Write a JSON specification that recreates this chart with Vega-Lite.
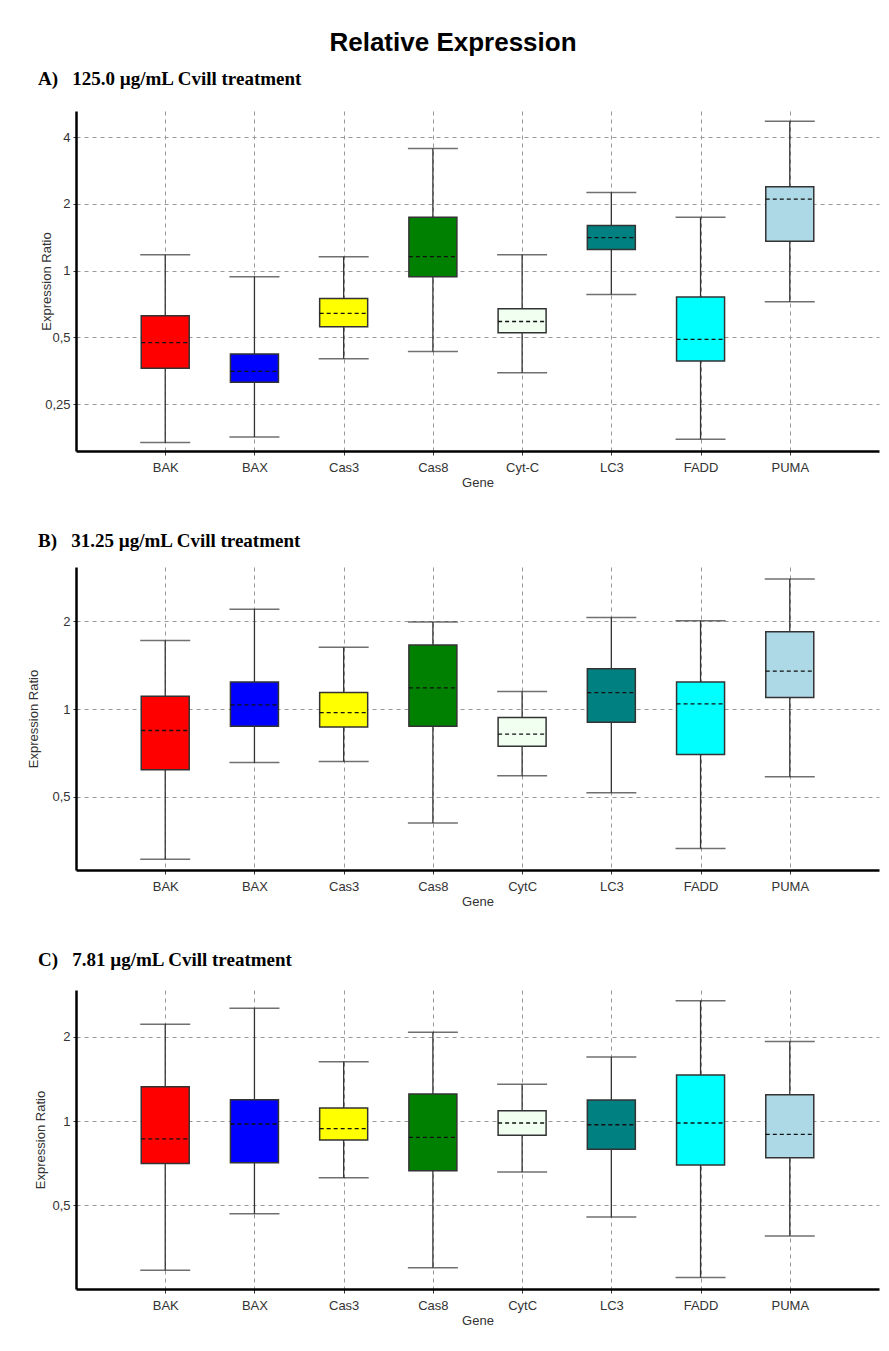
{
  "$schema": "https://vega.github.io/schema/vega-lite/v6.json",
  "background": "white",
  "padding": {"left": 27, "top": 30, "right": 4, "bottom": 4},
  "title": {"text": "Relative Expression", "fontSize": 26, "font": "Liberation Sans", "fontWeight": "bold", "anchor": "middle", "color": "#000", "offset": 14},
  "spacing": 43,
  "datasets": {
    "boxes": [
      {"panel": "A", "gene": "BAK", "min": 0.168, "q1": 0.363, "med": 0.474, "q3": 0.627, "max": 1.18},
      {"panel": "A", "gene": "BAX", "min": 0.178, "q1": 0.314, "med": 0.352, "q3": 0.421, "max": 0.94},
      {"panel": "A", "gene": "Cas3", "min": 0.401, "q1": 0.559, "med": 0.642, "q3": 0.75, "max": 1.156},
      {"panel": "A", "gene": "Cas8", "min": 0.432, "q1": 0.94, "med": 1.156, "q3": 1.74, "max": 3.55},
      {"panel": "A", "gene": "Cyt-C", "min": 0.347, "q1": 0.525, "med": 0.59, "q3": 0.674, "max": 1.18},
      {"panel": "A", "gene": "LC3", "min": 0.78, "q1": 1.244, "med": 1.409, "q3": 1.596, "max": 2.25},
      {"panel": "A", "gene": "FADD", "min": 0.174, "q1": 0.392, "med": 0.49, "q3": 0.761, "max": 1.74},
      {"panel": "A", "gene": "PUMA", "min": 0.725, "q1": 1.356, "med": 2.1, "q3": 2.39, "max": 4.71},
      {"panel": "B", "gene": "BAK", "min": 0.306, "q1": 0.62, "med": 0.845, "q3": 1.108, "max": 1.72},
      {"panel": "B", "gene": "BAX", "min": 0.656, "q1": 0.874, "med": 1.035, "q3": 1.24, "max": 2.2},
      {"panel": "B", "gene": "Cas3", "min": 0.661, "q1": 0.868, "med": 0.973, "q3": 1.14, "max": 1.63},
      {"panel": "B", "gene": "Cas8", "min": 0.407, "q1": 0.874, "med": 1.183, "q3": 1.66, "max": 1.99},
      {"panel": "B", "gene": "CytC", "min": 0.591, "q1": 0.746, "med": 0.821, "q3": 0.936, "max": 1.149},
      {"panel": "B", "gene": "LC3", "min": 0.517, "q1": 0.902, "med": 1.14, "q3": 1.375, "max": 2.06},
      {"panel": "B", "gene": "FADD", "min": 0.333, "q1": 0.699, "med": 1.043, "q3": 1.24, "max": 2.01},
      {"panel": "B", "gene": "PUMA", "min": 0.587, "q1": 1.096, "med": 1.35, "q3": 1.84, "max": 2.79},
      {"panel": "C", "gene": "BAK", "min": 0.294, "q1": 0.705, "med": 0.863, "q3": 1.325, "max": 2.21},
      {"panel": "C", "gene": "BAX", "min": 0.467, "q1": 0.71, "med": 0.976, "q3": 1.19, "max": 2.52},
      {"panel": "C", "gene": "Cas3", "min": 0.628, "q1": 0.856, "med": 0.939, "q3": 1.112, "max": 1.627},
      {"panel": "C", "gene": "Cas8", "min": 0.3, "q1": 0.665, "med": 0.875, "q3": 1.248, "max": 2.07},
      {"panel": "C", "gene": "CytC", "min": 0.658, "q1": 0.889, "med": 0.984, "q3": 1.088, "max": 1.351},
      {"panel": "C", "gene": "LC3", "min": 0.455, "q1": 0.793, "med": 0.97, "q3": 1.188, "max": 1.69},
      {"panel": "C", "gene": "FADD", "min": 0.277, "q1": 0.697, "med": 0.984, "q3": 1.458, "max": 2.68},
      {"panel": "C", "gene": "PUMA", "min": 0.389, "q1": 0.74, "med": 0.896, "q3": 1.24, "max": 1.92}
    ]
  },
  "vconcat": [
    {
      "width": 803, "height": 340,
      "title": {"text": "A)\u00a0\u00a0\u00a0125.0 µg/mL Cvill treatment", "anchor": "start", "frame": "group", "dx": -38, "offset": 7, "baseline": "alphabetic", "font": "Liberation Serif", "fontSize": 19, "fontWeight": "bold", "color": "#000"},
      "data": {"name": "boxes"},
      "transform": [{"filter": "datum.panel == 'A'"}],
      "encoding": {"x": {"field": "gene", "type": "nominal", "sort": null, "scale": {"type": "point", "padding": 1}, "axis": {"title": "Gene"}}},
      "layer": [
        {"mark": {"type": "rule", "color": "#333", "strokeWidth": 1.3},
         "encoding": {"y": {"field": "min", "type": "quantitative", "title": "Expression Ratio", "scale": {"type": "log", "base": 2, "domain": [0.154, 5.24], "nice": false}, "axis": {"values": [0.25, 0.5, 1, 2, 4], "titleX": -23, "labelExpr": "replace(toString(datum.value), '.', ',')"}}, "y2": {"field": "max"}}},
        {"mark": {"type": "bar", "size": 48, "stroke": "#333", "strokeWidth": 1.5},
         "encoding": {"y": {"field": "q1", "type": "quantitative", "title": "Expression Ratio"}, "y2": {"field": "q3"},
           "color": {"field": "gene", "type": "nominal", "legend": null, "scale": {"domain": ["BAK", "BAX", "Cas3", "Cas8", "Cyt-C", "CytC", "LC3", "FADD", "PUMA"], "range": ["#ff0000", "#0000ff", "#ffff00", "#008000", "#f0fff0", "#f0fff0", "#008080", "#00ffff", "#add8e6"]}}}},
        {"mark": {"type": "tick", "size": 50, "thickness": 1.5, "color": "#333"}, "encoding": {"y": {"field": "min", "type": "quantitative", "title": "Expression Ratio"}}},
        {"mark": {"type": "tick", "size": 50, "thickness": 1.5, "color": "#333"}, "encoding": {"y": {"field": "max", "type": "quantitative", "title": "Expression Ratio"}}},
        {"mark": {"type": "rule", "strokeDash": [4, 3], "color": "#111", "strokeWidth": 1.3, "xOffset": -24, "x2Offset": 24}, "encoding": {"x2": {"field": "gene"}, "y": {"field": "med", "type": "quantitative", "title": "Expression Ratio"}}}
      ]
    },
    {
      "width": 803, "height": 303,
      "title": {"text": "B)\u00a0\u00a0\u00a031.25 µg/mL Cvill treatment", "anchor": "start", "frame": "group", "dx": -38, "offset": 1, "baseline": "alphabetic", "font": "Liberation Serif", "fontSize": 19, "fontWeight": "bold", "color": "#000"},
      "data": {"name": "boxes"},
      "transform": [{"filter": "datum.panel == 'B'"}],
      "encoding": {"x": {"field": "gene", "type": "nominal", "sort": null, "scale": {"type": "point", "padding": 1}, "axis": {"title": "Gene"}}},
      "layer": [
        {"mark": {"type": "rule", "color": "#333", "strokeWidth": 1.3},
         "encoding": {"y": {"field": "min", "type": "quantitative", "title": "Expression Ratio", "scale": {"type": "log", "base": 2, "domain": [0.281, 3.07], "nice": false}, "axis": {"values": [0.5, 1, 2], "titleX": -36, "labelExpr": "replace(toString(datum.value), '.', ',')"}}, "y2": {"field": "max"}}},
        {"mark": {"type": "bar", "size": 48, "stroke": "#333", "strokeWidth": 1.5},
         "encoding": {"y": {"field": "q1", "type": "quantitative", "title": "Expression Ratio"}, "y2": {"field": "q3"},
           "color": {"field": "gene", "type": "nominal", "legend": null, "scale": {"domain": ["BAK", "BAX", "Cas3", "Cas8", "Cyt-C", "CytC", "LC3", "FADD", "PUMA"], "range": ["#ff0000", "#0000ff", "#ffff00", "#008000", "#f0fff0", "#f0fff0", "#008080", "#00ffff", "#add8e6"]}}}},
        {"mark": {"type": "tick", "size": 50, "thickness": 1.5, "color": "#333"}, "encoding": {"y": {"field": "min", "type": "quantitative", "title": "Expression Ratio"}}},
        {"mark": {"type": "tick", "size": 50, "thickness": 1.5, "color": "#333"}, "encoding": {"y": {"field": "max", "type": "quantitative", "title": "Expression Ratio"}}},
        {"mark": {"type": "rule", "strokeDash": [4, 3], "color": "#111", "strokeWidth": 1.3, "xOffset": -24, "x2Offset": 24}, "encoding": {"x2": {"field": "gene"}, "y": {"field": "med", "type": "quantitative", "title": "Expression Ratio"}}}
      ]
    },
    {
      "width": 803, "height": 299,
      "title": {"text": "C)\u00a0\u00a0\u00a07.81 µg/mL Cvill treatment", "anchor": "start", "frame": "group", "dx": -38, "offset": 5, "baseline": "alphabetic", "font": "Liberation Serif", "fontSize": 19, "fontWeight": "bold", "color": "#000"},
      "data": {"name": "boxes"},
      "transform": [{"filter": "datum.panel == 'C'"}],
      "encoding": {"x": {"field": "gene", "type": "nominal", "sort": null, "scale": {"type": "point", "padding": 1}, "axis": {"title": "Gene"}}},
      "layer": [
        {"mark": {"type": "rule", "color": "#333", "strokeWidth": 1.3},
         "encoding": {"y": {"field": "min", "type": "quantitative", "title": "Expression Ratio", "scale": {"type": "log", "base": 2, "domain": [0.252, 2.93], "nice": false}, "axis": {"values": [0.5, 1, 2], "titleX": -29, "labelExpr": "replace(toString(datum.value), '.', ',')"}}, "y2": {"field": "max"}}},
        {"mark": {"type": "bar", "size": 48, "stroke": "#333", "strokeWidth": 1.5},
         "encoding": {"y": {"field": "q1", "type": "quantitative", "title": "Expression Ratio"}, "y2": {"field": "q3"},
           "color": {"field": "gene", "type": "nominal", "legend": null, "scale": {"domain": ["BAK", "BAX", "Cas3", "Cas8", "Cyt-C", "CytC", "LC3", "FADD", "PUMA"], "range": ["#ff0000", "#0000ff", "#ffff00", "#008000", "#f0fff0", "#f0fff0", "#008080", "#00ffff", "#add8e6"]}}}},
        {"mark": {"type": "tick", "size": 50, "thickness": 1.5, "color": "#333"}, "encoding": {"y": {"field": "min", "type": "quantitative", "title": "Expression Ratio"}}},
        {"mark": {"type": "tick", "size": 50, "thickness": 1.5, "color": "#333"}, "encoding": {"y": {"field": "max", "type": "quantitative", "title": "Expression Ratio"}}},
        {"mark": {"type": "rule", "strokeDash": [4, 3], "color": "#111", "strokeWidth": 1.3, "xOffset": -24, "x2Offset": 24}, "encoding": {"x2": {"field": "gene"}, "y": {"field": "med", "type": "quantitative", "title": "Expression Ratio"}}}
      ]
    }
  ],
  "config": {
    "font": "Liberation Sans",
    "view": {"stroke": null},
    "axis": {"labelFont": "Liberation Sans", "labelFontSize": 13, "labelColor": "#333", "titleFont": "Liberation Sans", "titleFontSize": 13, "titleFontWeight": "normal", "titleColor": "#333", "domainColor": "#000", "domainWidth": 2.5, "tickColor": "#333", "tickSize": 4, "grid": true, "gridColor": "#999", "gridDash": [4, 4], "gridWidth": 1},
    "axisX": {"labelAngle": 0, "titlePadding": 2, "labelPadding": 6},
    "axisY": {"labelPadding": 3, "tickSize": 3}
  }
}
